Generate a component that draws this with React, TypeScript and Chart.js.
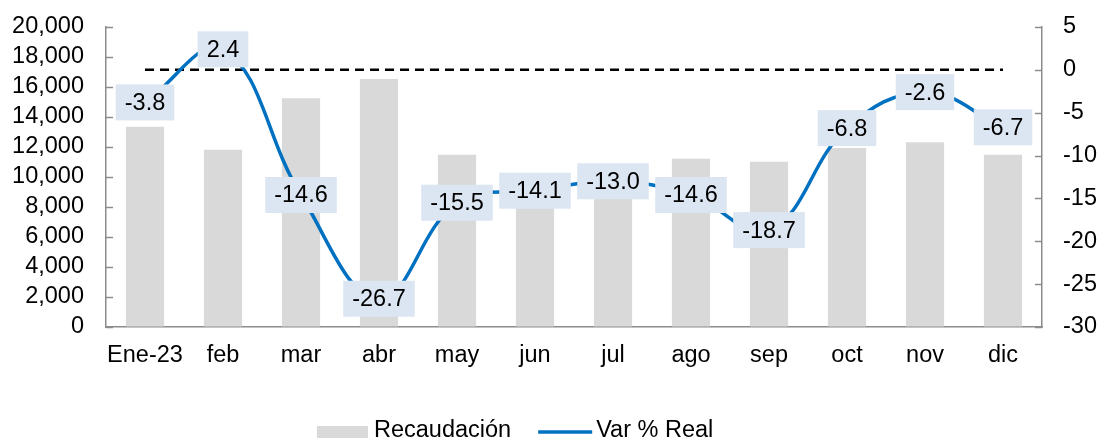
import React, { useEffect, useRef } from "react";
import { Chart, registerables } from "chart.js";

Chart.register(...registerables);

const categories = ["Ene-23", "feb", "mar", "abr", "may", "jun", "jul", "ago", "sep", "oct", "nov", "dic"];
const recaudacion = [13350, 11820, 15250, 16530, 11490, 9400, 9900, 11220, 11020, 11930, 12310, 11490];
const varReal = [-3.8, 2.4, -14.6, -26.7, -15.5, -14.1, -13.0, -14.6, -18.7, -6.8, -2.6, -6.7];
const zeroLine = categories.map(() => 0);
const seriesNames = ["Recaudación", "Var % Real"];

const FONT = "'Liberation Sans', Arial, sans-serif";
const FS = 23.5;
const AXIS_COLOR = "#8c8c8c";
const BAR_COLOR = "#d9d9d9";
const LINE_COLOR = "#0070c0";
const LABEL_BG = "#dce6f2";

const innerTicks = {
  id: "innerTicks",
  afterDraw(chart: any) {
    const ctx = chart.ctx;
    ctx.save();
    ctx.strokeStyle = AXIS_COLOR;
    ctx.lineWidth = 1.5;
    const y = chart.scales.y;
    y.ticks.forEach((t: any) => {
      const p = Math.round(y.getPixelForValue(t.value)) + 0.5;
      ctx.beginPath();
      ctx.moveTo(y.right, p);
      ctx.lineTo(y.right + 7, p);
      ctx.stroke();
    });
    const y1 = chart.scales.y1;
    y1.ticks.forEach((t: any) => {
      const p = Math.round(y1.getPixelForValue(t.value)) + 0.5;
      ctx.beginPath();
      ctx.moveTo(y1.left - 7, p);
      ctx.lineTo(y1.left, p);
      ctx.stroke();
    });
    ctx.restore();
  },
};

const valueLabels = {
  id: "valueLabels",
  afterDatasetsDraw(chart: any) {
    const ctx = chart.ctx;
    const meta = chart.getDatasetMeta(2);
    const data = chart.data.datasets[2].data;
    ctx.save();
    ctx.font = `${FS}px ${FONT}`;
    ctx.textAlign = "center";
    ctx.textBaseline = "middle";
    meta.data.forEach((pt: any, i: number) => {
      const txt = Number(data[i]).toFixed(1);
      const w = ctx.measureText(txt).width + 18;
      const h = 36;
      ctx.fillStyle = LABEL_BG;
      ctx.fillRect(pt.x - w / 2, pt.y - h / 2, w, h);
      ctx.fillStyle = "#000";
      ctx.fillText(txt, pt.x, pt.y + 1);
    });
    ctx.restore();
  },
};

const customLegend = {
  id: "customLegend",
  afterDraw(chart: any) {
    const ctx = chart.ctx;
    const cy = 432;
    ctx.save();
    ctx.font = `${FS}px ${FONT}`;
    ctx.textBaseline = "middle";
    ctx.textAlign = "left";
    let x = 317;
    ctx.fillStyle = BAR_COLOR;
    ctx.fillRect(x, cy - 6, 51, 12);
    x += 57;
    ctx.fillStyle = "#000";
    ctx.fillText(seriesNames[0], x, cy - 1);
    x += ctx.measureText(seriesNames[0]).width + 27;
    ctx.strokeStyle = LINE_COLOR;
    ctx.lineWidth = 3.5;
    ctx.beginPath();
    ctx.moveTo(x, cy);
    ctx.lineTo(x + 54, cy);
    ctx.stroke();
    x += 58;
    ctx.fillText(seriesNames[1], x, cy - 1);
    ctx.restore();
  },
};

const fixV = (w: number) => (s: any) => {
  s.width = w;
  s.paddingTop = 0;
  s.paddingBottom = 0;
};

export default function App() {
  const ref = useRef<HTMLCanvasElement>(null);
  useEffect(() => {
    if (!ref.current) return;
    const chart = new Chart(ref.current, {
      type: "bar",
      data: {
        labels: categories,
        datasets: [
          {
            type: "bar",
            label: seriesNames[0],
            data: recaudacion,
            backgroundColor: BAR_COLOR,
            yAxisID: "y",
            categoryPercentage: 1,
            barPercentage: 0.49,
            order: 3,
          },
          {
            type: "line",
            label: "zero",
            data: zeroLine,
            borderColor: "#000",
            borderWidth: 2.5,
            borderDash: [9, 6],
            pointRadius: 0,
            yAxisID: "y1",
            order: 2,
          },
          {
            type: "line",
            label: seriesNames[1],
            data: varReal,
            borderColor: LINE_COLOR,
            borderWidth: 3.5,
            pointRadius: 0,
            tension: 0.4,
            yAxisID: "y1",
            order: 1,
          },
        ] as any,
      },
      options: {
        animation: false,
        responsive: true,
        maintainAspectRatio: false,
        layout: { padding: { top: 27, left: 0, right: 0, bottom: 0 } },
        plugins: { legend: { display: false }, tooltip: { enabled: false } },
        scales: {
          x: {
            grid: { display: false, drawTicks: false },
            border: { display: true, color: AXIS_COLOR, width: 1.5 },
            ticks: { font: { family: FONT, size: FS }, color: "#000", padding: 14, maxRotation: 0, autoSkip: false },
            afterFit: (s: any) => { s.height = 114; s.paddingLeft = 0; s.paddingRight = 0; },
          },
          y: {
            position: "left",
            min: 0,
            max: 20000,
            grid: { drawOnChartArea: false, drawTicks: false },
            border: { display: true, color: AXIS_COLOR, width: 1.5 },
            ticks: {
              stepSize: 2000,
              autoSkip: false,
              font: { family: FONT, size: FS },
              color: "#000",
              padding: 22,
              callback: (v: any) => Number(v).toLocaleString("en-US"),
            },
            afterFit: fixV(106),
          },
          y1: {
            position: "right",
            min: -30,
            max: 5,
            grid: { drawOnChartArea: false, drawTicks: false },
            border: { display: true, color: AXIS_COLOR, width: 1.5 },
            ticks: { stepSize: 5, autoSkip: false, font: { family: FONT, size: FS }, color: "#000", padding: 21 },
            afterFit: fixV(58),
          },
        },
      },
      plugins: [innerTicks, valueLabels, customLegend],
    });
    return () => chart.destroy();
  }, []);
  return (
    <div style={{ position: "fixed", left: 0, top: 0, width: 1100, height: 441, background: "#fff" }}>
      <canvas ref={ref} />
    </div>
  );
}
